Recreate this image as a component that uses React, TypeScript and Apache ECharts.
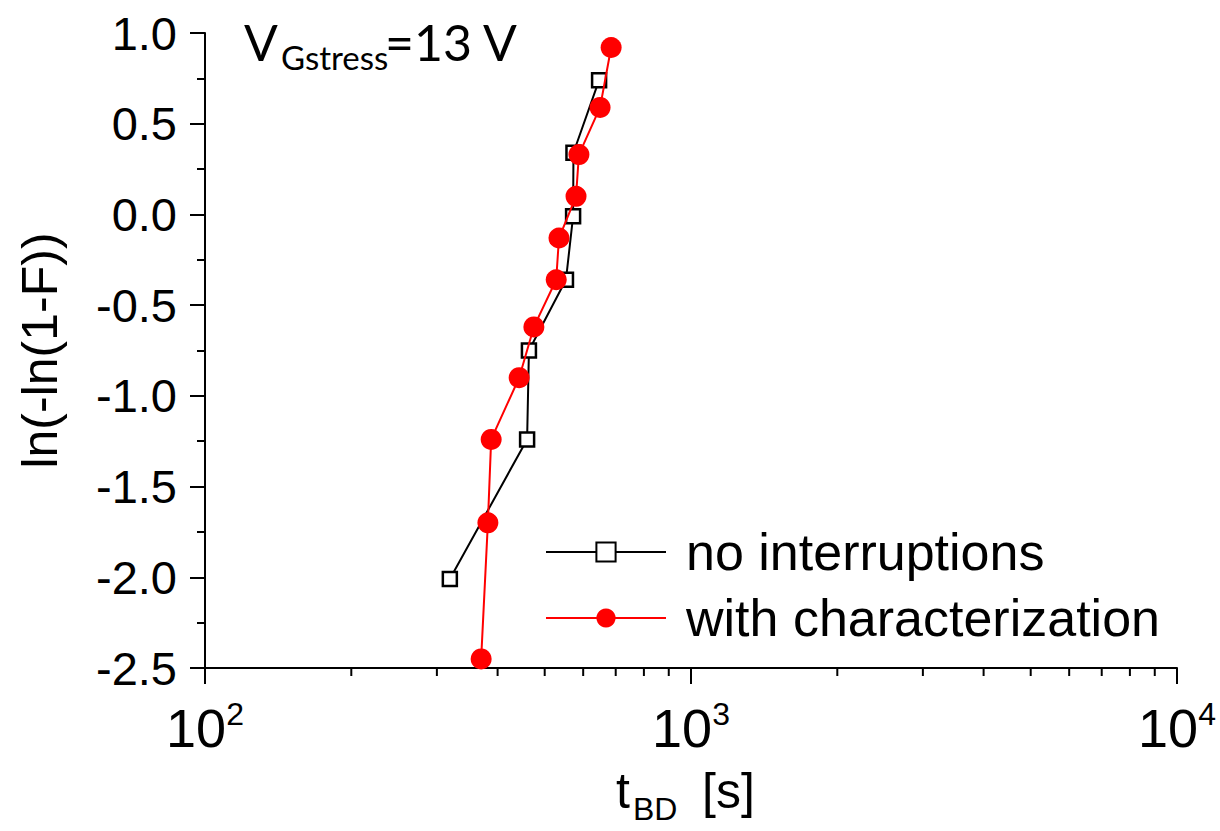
import React, { useEffect, useRef } from "react";
import * as echarts from "echarts";

// ---- data ----
const tNoInterruptions = [319, 460, 464, 553, 572, 573, 647];
const fNoInterruptions = [-2.01, -1.24, -0.75, -0.36, -0.01, 0.34, 0.74];

const tWithChar = [370, 382, 388, 443, 475, 528, 535, 580, 588, 650, 685];
const fWithChar = [-2.45, -1.7, -1.24, -0.9, -0.62, -0.36, -0.13, 0.1, 0.33, 0.59, 0.92];

const seriesNames = ["no interruptions", "with characterization"];
const xMinorTickValues = [200, 300, 400, 500, 600, 700, 800, 900, 2000, 3000, 4000, 5000, 6000, 7000, 8000, 9000];
const yMin = -2.5;
const yMax = 1.0;
const yStep = 0.5;

const FONT = "Liberation Sans, Arial, sans-serif";
const FONT2 = "Lato, Noto Sans, sans-serif";

export default function App() {
  const ref = useRef<HTMLDivElement>(null);

  useEffect(() => {
    if (!ref.current) return;
    const chart = echarts.init(ref.current, null, { renderer: "svg" });

    const pairs = (xs: number[], ys: number[]) => xs.map((x, i) => [x, ys[i]]);

    chart.setOption({
      animation: false,
      backgroundColor: "#ffffff",
      grid: { left: 205, top: 33, right: 43, bottom: 163, containLabel: false },
      legend: {
        data: seriesNames,
        orient: "vertical",
        left: 540,
        top: 521,
        itemWidth: 120,
        itemHeight: 24,
        itemGap: 14,
        textStyle: {
          fontFamily: FONT,
          fontSize: 52,
          color: "#000",
          padding: [0, 0, 0, 15],
        },
      },
      xAxis: {
        type: "log",
        logBase: 10,
        min: 100,
        max: 10000,
        splitNumber: 2,
        axisLine: { show: true, onZero: false, lineStyle: { color: "#000", width: 2 } },
        axisTick: { show: true, inside: false, length: 16, lineStyle: { color: "#000", width: 2 } },
        minorTick: { show: false },
        splitLine: { show: false },
        axisLabel: {
          margin: 30,
          color: "#000",
          formatter: (v: number) => `{b|10}{s|${Math.round(Math.log10(v))}}`,
          rich: {
            b: { fontFamily: FONT, fontSize: 54, lineHeight: 60, color: "#000" },
            s: { fontFamily: FONT, fontSize: 32, lineHeight: 14, verticalAlign: "top", color: "#000" },
          },
        },
      },
      yAxis: {
        type: "value",
        min: yMin,
        max: yMax,
        interval: yStep,
        name: "ln(-ln(1-F))",
        nameLocation: "middle",
        nameGap: 140,
        nameTextStyle: { fontFamily: FONT, fontSize: 50, color: "#000" },
        axisLine: { show: true, lineStyle: { color: "#000", width: 2 } },
        axisTick: { show: true, inside: false, length: 15, lineStyle: { color: "#000", width: 2 } },
        minorTick: { show: true, splitNumber: 2, length: 8, lineStyle: { color: "#000", width: 2 } },
        splitLine: { show: false },
        axisLabel: {
          margin: 28,
          fontFamily: FONT,
          fontSize: 47,
          color: "#000",
          formatter: (v: number) => v.toFixed(1),
        },
      },
      series: [
        {
          name: seriesNames[0],
          type: "line",
          data: pairs(tNoInterruptions, fNoInterruptions),
          symbol: "rect",
          symbolSize: 14,
          showAllSymbol: true,
          lineStyle: { color: "#000", width: 2 },
          itemStyle: { color: "#fff", borderColor: "#000", borderWidth: 2.5 },
          z: 2,
        },
        {
          name: seriesNames[1],
          type: "line",
          data: pairs(tWithChar, fWithChar),
          symbol: "circle",
          symbolSize: 21,
          showAllSymbol: true,
          lineStyle: { color: "#ff0000", width: 2 },
          itemStyle: { color: "#ff0000", borderColor: "#ff0000", borderWidth: 0 },
          z: 3,
        },
      ],
    });

    // minor ticks on the log axis, positioned through the axis scale
    const axisY = chart.convertToPixel({ yAxisIndex: 0 }, yMin) as number;
    const minorTicks = xMinorTickValues.map((v) => {
      const x = chart.convertToPixel({ xAxisIndex: 0 }, v) as number;
      return {
        type: "line",
        shape: { x1: x, y1: axisY, x2: x, y2: axisY + 8 },
        style: { stroke: "#000", lineWidth: 2 },
        silent: true,
      };
    });

    const textEl = (text: string, x: number, baseline: number, size: number, family: string) => ({
      type: "text",
      x,
      y: baseline - size * 0.31,
      style: {
        text,
        fontFamily: family,
        fontSize: size,
        fill: "#000",
        textAlign: "left",
        textVerticalAlign: "middle",
        verticalAlign: "middle",
      },
      silent: true,
    });

    chart.setOption({
      graphic: [
        ...minorTicks,
        textEl("V", 244, 57, 50, FONT2),
        textEl("Gstress", 281, 67, 33, FONT2),
        textEl("=13 V", 385, 57, 50, FONT2),
        textEl("t", 616, 806, 50, FONT),
        textEl("BD", 633, 819, 32, FONT),
        textEl("[s]", 702, 806, 50, FONT),
      ],
    });

    return () => chart.dispose();
  }, []);

  return (
    <div
      ref={ref}
      style={{ position: "absolute", left: 0, top: 0, width: 1220, height: 831 }}
    />
  );
}
